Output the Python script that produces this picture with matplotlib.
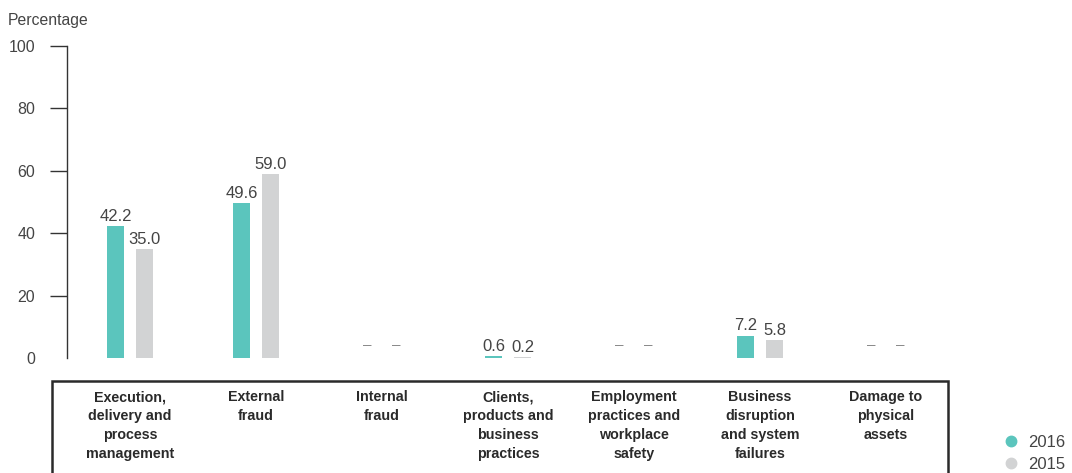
import numpy as np
import matplotlib.pyplot as plt
from matplotlib.lines import Line2D
from matplotlib.patches import Rectangle

plt.rcParams['font.family'] = ['Liberation Sans', 'DejaVu Sans']

categories = ['Execution,\ndelivery and\nprocess\nmanagement', 'External\nfraud', 'Internal\nfraud',
              'Clients,\nproducts and\nbusiness\npractices', 'Employment\npractices and\nworkplace\nsafety',
              'Business\ndisruption\nand system\nfailures', 'Damage to\nphysical\nassets']
vals_2016 = [42.2, 49.6, np.nan, 0.6, np.nan, 7.2, np.nan]
vals_2015 = [35.0, 59.0, np.nan, 0.2, np.nan, 5.8, np.nan]
yticks = [0, 20, 40, 60, 80, 100]

teal = '#5bc5bd'
grey = '#d2d3d4'
txt = '#444444'

fig = plt.figure(figsize=(10.72, 4.73), dpi=100)
ax = fig.add_axes([0.0625, 0.2431, 0.8228, 0.6596])

x = np.arange(len(categories))
w = 0.128
off = 0.115
for vals, sign, col in [(vals_2016, -1, teal), (vals_2015, 1, grey)]:
    for xi, v in zip(x, vals):
        xp = xi + sign * off
        if np.isnan(v):
            ax.text(xp, 1.8, '–', ha='center', va='bottom', fontsize=11, color='#888888')
        else:
            ax.bar(xp, v, width=w, color=col)
            ax.text(xp, v + 0.7, f'{v:.1f}', ha='center', va='bottom', fontsize=12, color=txt)

ax.set_xlim(-0.5, 6.5)
ax.set_ylim(0, 100)
ax.set_yticks(yticks)
ax.tick_params(axis='y', length=12, width=1, color='#333333', pad=11, labelsize=11.5, labelcolor=txt)
ax.yaxis.get_major_ticks()[0].tick1line.set_visible(False)
ax.set_xticks([])
for s in ['top', 'right', 'bottom']:
    ax.spines[s].set_visible(False)
ax.spines['left'].set_color('#333333')
ax.spines['left'].set_linewidth(1)

fig.text(8 / 1072, 1 - 20 / 473, 'Percentage', fontsize=11.3, color=txt, va='center', ha='left')

# category box under the chart
box = Rectangle((52 / 1072, -0.05), (948 - 52) / 1072, 0.05 + (473 - 381) / 473,
                transform=fig.transFigure, fill=False, lw=1.8, edgecolor='#2a2a2a')
fig.add_artist(box)
for xi, lab in zip(x, categories):
    xd = ax.transData.transform((xi, 0))[0]
    fig.text(xd / 1072, 1 - 390 / 473, lab, ha='center', va='top', fontsize=10.3,
             fontweight='bold', color='#2a2a2a', linespacing=1.45)

handles = [Line2D([], [], ls='', marker='o', ms=7.5, color=teal),
           Line2D([], [], ls='', marker='o', ms=7.5, color=grey)]
fig.legend(handles, ['2016', '2015'], loc='lower left', bbox_to_anchor=(988 / 1072, -0.03),
           frameon=False, fontsize=12, labelcolor=txt, handletextpad=0.5, labelspacing=0.45,
           handlelength=1.0)

fig.savefig('out.png', dpi=100)
